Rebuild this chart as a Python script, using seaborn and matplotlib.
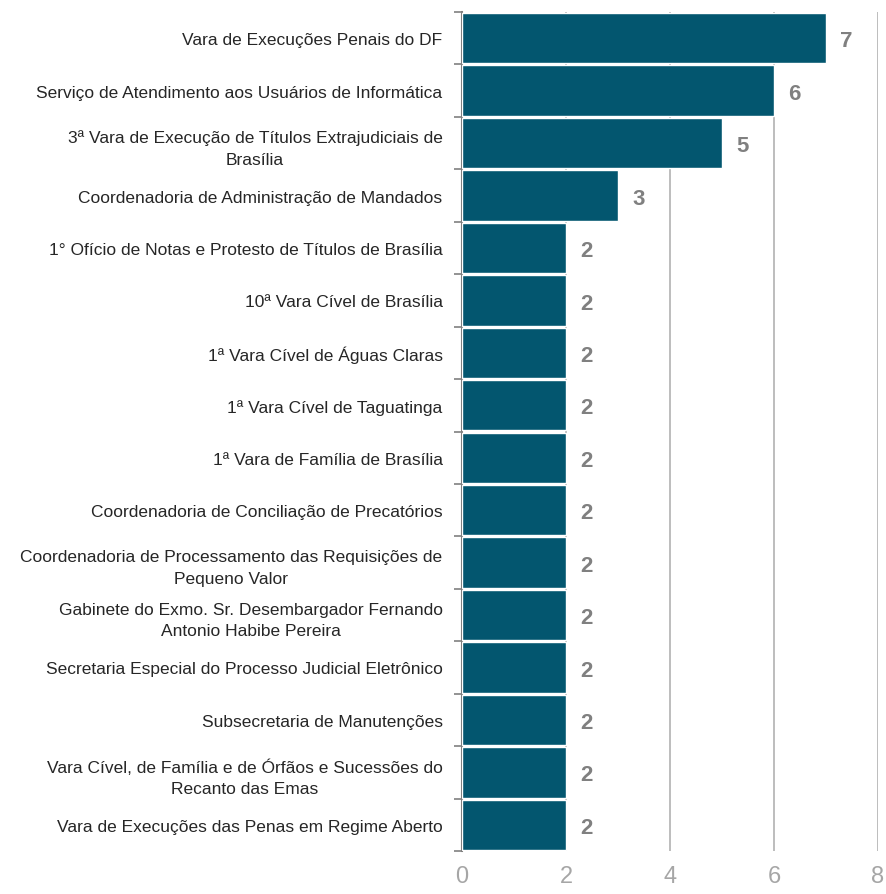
import matplotlib
matplotlib.use("Agg")
import matplotlib.pyplot as plt
import numpy as np
import pandas as pd
import seaborn as sns

units = [
    "Vara de Execuções Penais do DF",
    "Serviço de Atendimento aos Usuários de Informática",
    "3ª Vara de Execução de Títulos Extrajudiciais de\nBrasília",
    "Coordenadoria de Administração de Mandados",
    "1° Ofício de Notas e Protesto de Títulos de Brasília",
    "10ª Vara Cível de Brasília",
    "1ª Vara Cível de Águas Claras",
    "1ª Vara Cível de Taguatinga",
    "1ª Vara de Família de Brasília",
    "Coordenadoria de Conciliação de Precatórios",
    "Coordenadoria de Processamento das Requisições de\nPequeno Valor",
    "Gabinete do Exmo. Sr. Desembargador Fernando\nAntonio Habibe Pereira",
    "Secretaria Especial do Processo Judicial Eletrônico",
    "Subsecretaria de Manutenções",
    "Vara Cível, de Família e de Órfãos e Sucessões do\nRecanto das Emas",
    "Vara de Execuções das Penas em Regime Aberto",
]
counts = [7, 6, 5, 3, 2, 2, 2, 2, 2, 2, 2, 2, 2, 2, 2, 2]
x_ticks = [0, 2, 4, 6, 8]

df = pd.DataFrame({"unit": units, "count": counts})

sns.set_style("white")
plt.rcParams["font.family"] = ["Liberation Sans Narrow", "Liberation Sans", "DejaVu Sans"]

fig = plt.figure(figsize=(8.86, 8.95), dpi=100)
ax = fig.add_axes([0.5214, 0.048, 0.4695, 0.9375])

sns.barplot(data=df, x="count", y="unit", orient="h", color="#03566f",
            saturation=1, width=0.96, ax=ax, zorder=3)

ax.set_xlim(0, 8)
ax.set_ylim(len(units) - 0.5, -0.5)
ax.set_xticks(x_ticks)
ax.set_xticklabels([str(t) for t in x_ticks])
ax.tick_params(axis="x", length=0, labelsize=17, labelcolor="#a6a6a6", pad=10)
ax.grid(axis="x", color="#b8b8b8", linewidth=1.3, zorder=0)
ax.set_axisbelow(True)

# category labels, boundary ticks as minor ticks
ax.tick_params(axis="y", which="major", left=False, length=0, labelsize=12.5,
               labelcolor="#262626", pad=14)
ax.set_yticks(np.arange(-0.5, len(units), 1), minor=True)
ax.tick_params(axis="y", which="minor", left=True, length=6, width=1.2,
               color="#808080", direction="out")
for lbl in ax.get_yticklabels():
    lbl.set_multialignment("center")
    lbl.set_linespacing(1.55)

for s in ["top", "right", "bottom"]:
    ax.spines[s].set_visible(False)
ax.spines["left"].set_color("#808080")
ax.spines["left"].set_linewidth(1.5)
ax.set_xlabel("")
ax.set_ylabel("")

for i, v in enumerate(counts):
    ax.text(v + 0.28, i + 0.05, str(v), va="center", ha="left", fontsize=16,
            fontweight="bold", color="#808080", zorder=4)

fig.savefig("out.png", dpi=100)
